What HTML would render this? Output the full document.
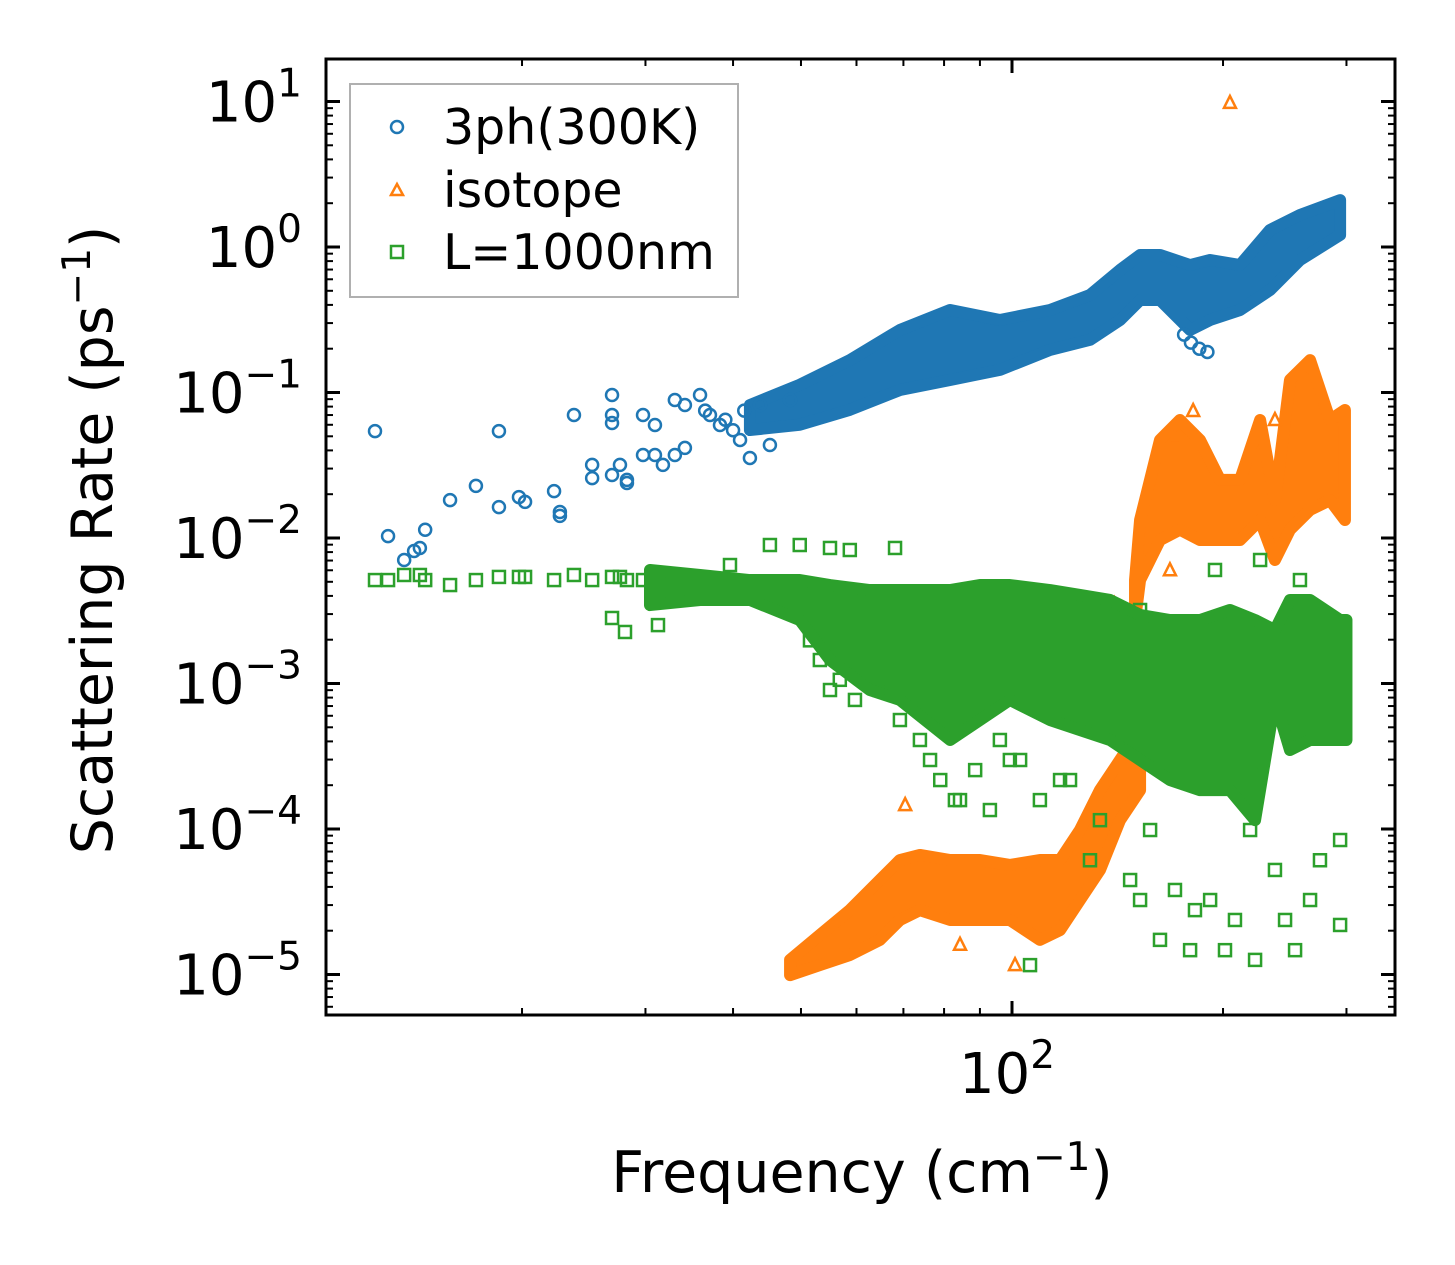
<!DOCTYPE html>
<html><head><meta charset="utf-8"><style>
html,body{margin:0;padding:0;background:#fff}
svg{display:block}
text{font-family:"DejaVu Sans","Liberation Sans",sans-serif;fill:#000}
</style></head><body>
<svg id="chart" width="1455" height="1265" viewBox="0 0 1455 1265" xmlns="http://www.w3.org/2000/svg">
<rect width="1455" height="1265" fill="#fff"/>
<defs><clipPath id="clip"><rect x="326" y="59" width="1069" height="956"/></clipPath></defs>
<g id="plot" clip-path="url(#clip)"></g>
<g id="axes"></g>
<g>
<rect x="350" y="84" width="388" height="213" fill="#fff" stroke="#b0b0b0" stroke-width="2"/>
<circle cx="397" cy="127" r="6" fill="none" stroke="#1f77b4" stroke-width="2.5"/>
<text x="443" y="144" font-size="49">3ph(300K)</text>
<path d="M391,195 L397,184 L403,195 Z" fill="none" stroke="#ff7f0e" stroke-width="2.5"/>
<text x="443" y="207" font-size="49">isotope</text>
<rect x="391" y="246" width="12" height="12" fill="none" stroke="#2ca02c" stroke-width="2.5"/>
<text x="443" y="269" font-size="49">L=1000nm</text>
</g>
<text x="862" y="1192" font-size="57" text-anchor="middle">Frequency (cm<tspan font-size="39" dy="-22">−1</tspan><tspan dy="22">)</tspan></text>
<text transform="translate(112,540) rotate(-90)" font-size="57" text-anchor="middle">Scattering Rate (ps<tspan font-size="39" dy="-22">−1</tspan><tspan dy="22">)</tspan></text>
</svg>
<script>
// ---- data ----
const blueBandFreq = [42.28,49.8,58.7,69.2,81.6,96.1,113.3,129.2,142.6,152.3,162.6,179.5,191.7,211.5,233.4,257.5,293.8];
const blueBandHi   = [0.082,0.113,0.167,0.269,0.369,0.315,0.369,0.468,0.695,0.881,0.881,0.752,0.814,0.752,1.31,1.66,2.10];
const blueBandLo   = [0.0552,0.060,0.076,0.104,0.122,0.143,0.196,0.230,0.315,0.432,0.432,0.269,0.315,0.369,0.506,0.814,1.21];
const blueFreq = [12.34,12.88,13.58,14.03,14.30,14.55,15.79,17.19,18.54,18.54,19.80,20.20,22.22,22.65,22.65,23.72,25.18,25.18,26.88,26.88,26.88,26.88,27.59,28.23,28.23,29.76,29.76,30.95,30.95,31.77,33.04,33.04,34.15,34.15,35.89,37.08,38.32,40.93,45.15,42.28,43.70,48.24,190,185,180,176,36.5,39.0,40.0,41.5];
const blueVal  = [0.0543,0.0103,0.00706,0.00814,0.00854,0.0114,0.0182,0.0228,0.0543,0.0163,0.0191,0.0177,0.0210,0.0151,0.0142,0.0700,0.0318,0.0258,0.0271,0.0617,0.0700,0.0961,0.0318,0.0251,0.0239,0.0372,0.0700,0.0598,0.0372,0.0318,0.0888,0.0372,0.0416,0.0820,0.0961,0.0700,0.0598,0.0472,0.0436,0.0355,0.0820,0.0888,0.19,0.20,0.22,0.25,0.075,0.065,0.055,0.075];
const orangeBandFreq = [48.24,53.2,58.7,64.8,69.2,73.9,81.6,90.0,99.3,109.6,117.1,125.0,133.5,142.6,152.3];
const orangeBandHi   = [1.26e-5,1.87e-5,2.77e-5,4.46e-5,6.12e-5,6.63e-5,6.12e-5,6.12e-5,5.66e-5,6.12e-5,6.12e-5,9.84e-5,1.85e-4,2.98e-4,4.79e-4];
const orangeBandLo   = [9.9e-6,1.16e-5,1.36e-5,1.73e-5,2.37e-5,2.77e-5,2.37e-5,2.37e-5,2.37e-5,1.73e-5,2.02e-5,3.25e-5,5.23e-5,1.15e-4,1.85e-4];
const orangeTopFreq = [149.8,152.3,162.6,173.6,185.4,198.0,211.5,225.9,237.2,249.2,266.2,284.2,298.5];
const orangeTopHi   = [0.00514,0.0133,0.0472,0.0647,0.0472,0.0251,0.0251,0.0647,0.0182,0.122,0.167,0.0647,0.0758];
const orangeTopLo   = [0.00273,0.00514,0.00969,0.0114,0.00969,0.00969,0.00969,0.0133,0.00706,0.0114,0.0156,0.0182,0.0133];
const orangeFreq = [204.6,181.3,237.2,170.8,70.4,84.3,101.0,140,168];
const orangeVal  = [9.78,0.0746,0.0647,0.0488,1.46e-4,1.6e-5,1.16e-5,0.0035,0.006];
const greenBandFreq = [30.45,35.89,42.28,49.8,55.0,62.7,69.2,81.6,90.0,99.3,113.3,125.0,138.0,152.3,168.0,185.4,204.6,222.2,237.2,249.2,266.2,293.8,300];
const greenBandHi   = [0.00603,0.00557,0.00514,0.00514,0.00475,0.00439,0.00439,0.00439,0.00475,0.00475,0.00439,0.00406,0.00375,0.00296,0.00273,0.00273,0.00320,0.00273,0.00233,0.00375,0.00375,0.00273,0.00273];
const greenBandLo   = [0.00346,0.00375,0.00375,0.00273,0.00145,0.000902,0.000771,0.000409,0.000561,0.000771,0.000561,0.000479,0.000409,0.000298,0.000217,0.000185,0.000185,0.000115,0.000771,0.000349,0.000409,0.000409,0.000409];
const greenFreq = [12.34,12.88,13.58,14.30,14.55,15.79,17.19,18.54,19.80,20.20,22.22,23.72,25.18,26.88,27.59,28.23,29.76,26.88,28.05,31.26,39.6,45.15,84.3,88.6,93.0,102.7,117.1,129.2,147.4,152.3,162.6,170.8,182.4,191.7,201.3,208.0,222.2,237.2,253.4,266.2,275.0,293.8,293.8,245.2,179.5,106.1,157.4,218.6,49.8,55.0,58.7,68.1,152.3,194.8,225.9,257.5,
  51.5,53.2,55.0,56.8,59.7,64.8,69.2,73.9,76.4,79.0,82.9,96.1,99.3,109.6,121.0,133.5,142.6];
const greenVal  = [0.00514,0.00514,0.00557,0.00557,0.00514,0.00475,0.00514,0.00540,0.00540,0.00540,0.00514,0.00557,0.00514,0.00540,0.00540,0.00514,0.00514,0.00282,0.00226,0.00252,0.00652,0.00895,1.58e-4,2.54e-4,1.35e-4,2.98e-4,2.17e-4,6.1e-5,4.46e-5,3.25e-5,1.73e-5,3.81e-5,2.77e-5,3.25e-5,1.47e-5,2.37e-5,1.26e-5,5.23e-5,1.47e-5,3.25e-5,6.1e-5,2.19e-5,8.4e-5,2.37e-5,1.47e-5,1.16e-5,9.84e-5,9.84e-5,0.00895,0.00854,0.00827,0.00854,0.00320,0.00603,0.00706,0.00514,
  0.00198,0.00145,0.000902,0.00106,0.000771,0.000902,0.000561,0.000409,0.000298,0.000217,0.000158,0.000409,0.000298,0.000158,0.000217,0.000115,0.000409];
const yTickExp = [1,0,-1,-2,-3,-4,-5];
const xMajorTicks = [100];
const xMinorTicks = [20,30,40,50,60,70,80,90,200,300];

// ---- scales ----
const X0=1012, XD=701, Y0=247, YD=145.5;
function sx(f){return X0+XD*Math.log10(f/100);}
function sy(v){return Y0-YD*Math.log10(v);}
const NS='http://www.w3.org/2000/svg';
const plot=document.getElementById('plot'), axes=document.getElementById('axes');
function mk(tag,attrs,parent){const e=document.createElementNS(NS,tag);for(const k in attrs)e.setAttribute(k,attrs[k]);parent.appendChild(e);return e;}

function band(freq,hi,lo,color,name){
  let d='M'+freq.map((f,i)=>sx(f)+','+sy(hi[i])).join(' L');
  for(let i=freq.length-1;i>=0;i--) d+=' L'+sx(freq[i])+','+sy(lo[i]);
  const p=mk('path',{d:d+'Z',fill:color,stroke:color,'stroke-width':12,'stroke-linejoin':'round'},plot);
  
  
}
function circles(freq,val){freq.forEach((f,i)=>{
  const c=mk('circle',{cx:sx(f),cy:sy(val[i]),r:6,fill:'none',stroke:'#1f77b4','stroke-width':2.5},plot);
  
  
});}
function tris(freq,val){freq.forEach((f,i)=>{const x=sx(f),y=sy(val[i]);
  const t=mk('path',{d:`M${x-6},${y+5} L${x},${y-7} L${x+6},${y+5}Z`,fill:'none',stroke:'#ff7f0e','stroke-width':2.5},plot);
  
  
});}
function squares(freq,val){freq.forEach((f,i)=>{
  const s=mk('rect',{x:sx(f)-6,y:sy(val[i])-6,width:12,height:12,fill:'none',stroke:'#2ca02c','stroke-width':2.5},plot);
  
  
});}
band(blueBandFreq,blueBandHi,blueBandLo,'#1f77b4','band-3ph');
circles(blueFreq,blueVal);
band(orangeBandFreq,orangeBandHi,orangeBandLo,'#ff7f0e','band-isotope-low');
band(orangeTopFreq,orangeTopHi,orangeTopLo,'#ff7f0e','band-isotope-high');
tris(orangeFreq,orangeVal);
band(greenBandFreq,greenBandHi,greenBandLo,'#2ca02c','band-boundary');
squares(greenFreq,greenVal);

// ---- axes ----
const L=326,R=1395,T=59,B=1015;
const frame=mk('rect',{x:L,y:T,width:R-L,height:B-T,fill:'none',stroke:'#000','stroke-width':3},axes);


function tick(x1,y1,x2,y2,w){mk('line',{x1,y1,x2,y2,stroke:'#000','stroke-width':w},axes);}
yTickExp.forEach(e=>{
  const y=sy(Math.pow(10,e));
  tick(L,y,L+14,y,3);tick(R,y,R-14,y,3);
  for(let m=2;m<10;m++){const ym=sy(m*Math.pow(10,e-1));if(ym>T&&ym<B){tick(L,ym,L+7,ym,2);tick(R,ym,R-7,ym,2);}}
  const t=mk('text',{x:302,y:y+20,'font-size':56,'text-anchor':'end'},axes);
  t.innerHTML='10<tspan font-size="39" dy="-25">'+(e<0?'−'+(-e):e)+'</tspan>';
  
  
});
for(let m=2;m<10;m++){const ym=sy(m*10);if(ym>T){tick(L,ym,L+7,ym,2);tick(R,ym,R-7,ym,2);}}
xMajorTicks.forEach(f=>{const x=sx(f);tick(x,B,x,B-14,3);tick(x,T,x,T+14,3);
  const t=mk('text',{x:x-5,y:1093,'font-size':56,'text-anchor':'middle'},axes);
  t.innerHTML='10<tspan font-size="39" dy="-25">2</tspan>';
  
  
});
xMinorTicks.forEach(f=>{const x=sx(f);tick(x,B,x,B-7,2);tick(x,T,x,T+7,2);});
</script>
</body></html>
